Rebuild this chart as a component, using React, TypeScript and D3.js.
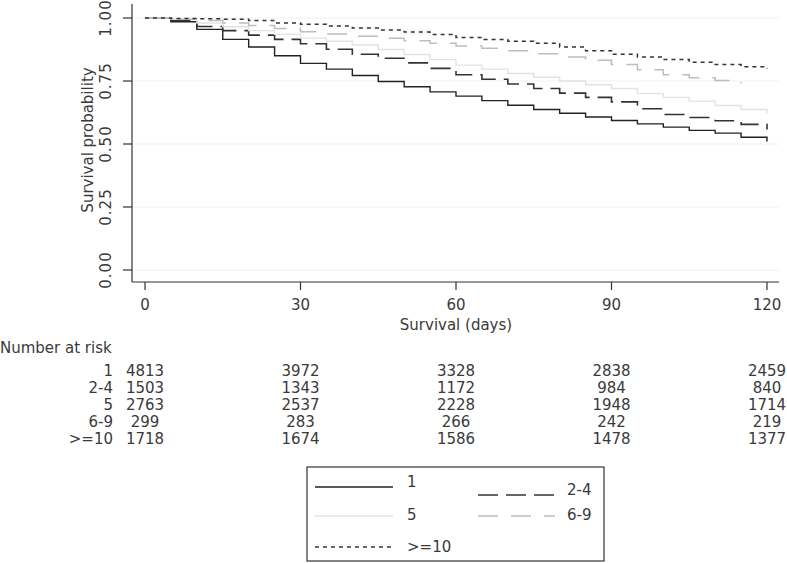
import React from "react";
import * as d3 from "d3";

const days = [0, 5, 10, 15, 20, 25, 30, 35, 40, 45, 50, 55, 60, 65, 70, 75, 80, 85, 90, 95, 100, 105, 110, 115, 120];

const s1 = [1.0, 0.985, 0.955, 0.915, 0.885, 0.85, 0.82, 0.797, 0.772, 0.748, 0.727, 0.707, 0.69, 0.672, 0.654, 0.637, 0.622, 0.607, 0.593, 0.58, 0.567, 0.554, 0.543, 0.527, 0.51];
const s24 = [1.0, 0.99, 0.966, 0.95, 0.932, 0.915, 0.898, 0.876, 0.856, 0.84, 0.822, 0.8, 0.775, 0.757, 0.738, 0.72, 0.702, 0.685, 0.667, 0.64, 0.617, 0.605, 0.592, 0.578, 0.558];
const s5 = [1.0, 0.995, 0.98, 0.965, 0.95, 0.935, 0.92, 0.908, 0.893, 0.875, 0.855, 0.835, 0.813, 0.797, 0.78, 0.765, 0.75, 0.735, 0.72, 0.70, 0.685, 0.67, 0.653, 0.637, 0.62];
const s69 = [1.0, 0.995, 0.99, 0.98, 0.97, 0.958, 0.945, 0.937, 0.928, 0.92, 0.91, 0.9, 0.889, 0.88, 0.87, 0.858, 0.845, 0.832, 0.815, 0.795, 0.775, 0.763, 0.752, 0.74, null];
const s10 = [1.0, 0.998, 0.997, 0.995, 0.99, 0.98, 0.975, 0.968, 0.96, 0.952, 0.944, 0.935, 0.923, 0.915, 0.908, 0.9, 0.885, 0.87, 0.856, 0.845, 0.835, 0.824, 0.815, 0.807, 0.80];

const groups = ["1", "2-4", "5", "6-9", ">=10"];
const xTicks = [0, 30, 60, 90, 120];
const yTicks = [0, 0.25, 0.5, 0.75, 1];
const atRisk = [
  [4813, 3972, 3328, 2838, 2459],
  [1503, 1343, 1172, 984, 840],
  [2763, 2537, 2228, 1948, 1714],
  [299, 283, 266, 242, 219],
  [1718, 1674, 1586, 1478, 1377],
];

const seriesValues = [s1, s24, s5, s69, s10];
const styles = [
  { stroke: "#222", width: 1.4, dash: "none" },
  { stroke: "#333", width: 1.6, dash: "20 8" },
  { stroke: "#e2e2e2", width: 1.4, dash: "none" },
  { stroke: "#bdbdbd", width: 1.5, dash: "20 13" },
  { stroke: "#333", width: 1.5, dash: "4 4" },
];

const FONT = "'DejaVu Sans', sans-serif";
const TXT = "#3a3a3a";

export default function App() {
  const x = d3.scaleLinear().domain([0, 120]).range([145, 767]);
  const y = d3.scaleLinear().domain([0, 1]).range([270, 18]);
  const line = d3
    .line<[number, number | null]>()
    .defined((d) => d[1] !== null)
    .x((d) => x(d[0]))
    .y((d) => y(d[1] as number))
    .curve(d3.curveStepAfter);

  const legendPos = [
    { lx1: 315, lx2: 393, ly: 487, tx: 407, ty: 487 },
    { lx1: 478, lx2: 555, ly: 495, tx: 567, ty: 495 },
    { lx1: 315, lx2: 393, ly: 516, tx: 407, ty: 520 },
    { lx1: 478, lx2: 555, ly: 516, tx: 567, ty: 520 },
    { lx1: 315, lx2: 393, ly: 547, tx: 407, ty: 552 },
  ];

  const rowBase = [376, 393, 410, 427, 444];

  return (
    <svg width={787} height={563} style={{ position: "absolute", left: 0, top: 0, background: "#fff" }} fontFamily={FONT} fontSize={15}>
      <rect x={0} y={0} width={787} height={563} fill="#fff" />
      {yTicks.map((t) => (
        <line key={"g" + t} x1={132} x2={779} y1={y(t)} y2={y(t)} stroke="#f0f0f0" strokeWidth={1} />
      ))}
      <line x1={132} x2={132} y1={4} y2={282} stroke="#333" strokeWidth={1.2} />
      <line x1={132} x2={779} y1={282} y2={282} stroke="#333" strokeWidth={1.2} />
      {yTicks.map((t) => (
        <g key={"yt" + t}>
          <line x1={123} x2={132} y1={y(t)} y2={y(t)} stroke="#333" strokeWidth={1.2} />
          <text transform={`translate(111,${y(t)}) rotate(-90)`} textAnchor="middle" fill={TXT} letterSpacing={1}>
            {d3.format(".2f")(t)}
          </text>
        </g>
      ))}
      {xTicks.map((t) => (
        <g key={"xt" + t}>
          <line x1={x(t)} x2={x(t)} y1={282} y2={290} stroke="#333" strokeWidth={1.2} />
          <text x={x(t)} y={310} textAnchor="middle" fill={TXT}>
            {t}
          </text>
        </g>
      ))}
      <text transform={`translate(93,140) rotate(-90)`} textAnchor="middle" fill={TXT}>
        Survival probability
      </text>
      <text x={456} y={330} textAnchor="middle" fill={TXT}>
        Survival (days)
      </text>

      {seriesValues.map((vals, i) => {
        const pts = days.map((d, j) => [d, vals[j]] as [number, number | null]);
        const st = styles[i];
        return (
          <path
            key={"s" + i}
            d={line(pts) || ""}
            fill="none"
            stroke={st.stroke}
            strokeWidth={st.width}
            strokeDasharray={st.dash}
          />
        );
      })}

      <text x={0} y={353} fill={TXT}>
        Number at risk
      </text>
      {groups.map((g, i) => (
        <g key={"r" + g}>
          <text x={113} y={rowBase[i]} textAnchor="end" fill={TXT}>
            {g}
          </text>
          {atRisk[i].map((v, j) => (
            <text key={j} x={x(xTicks[j])} y={rowBase[i]} textAnchor="middle" fill={TXT}>
              {v}
            </text>
          ))}
        </g>
      ))}

      <rect x={307} y={467} width={297} height={94} fill="#fff" stroke="#333" strokeWidth={1.2} />
      {groups.map((g, i) => {
        const p = legendPos[i];
        const st = styles[i];
        return (
          <g key={"l" + g}>
            <line x1={p.lx1} x2={p.lx2} y1={p.ly} y2={p.ly} stroke={st.stroke} strokeWidth={st.width} strokeDasharray={st.dash} />
            <text x={p.tx} y={p.ty} fill={TXT}>
              {g}
            </text>
          </g>
        );
      })}
    </svg>
  );
}
